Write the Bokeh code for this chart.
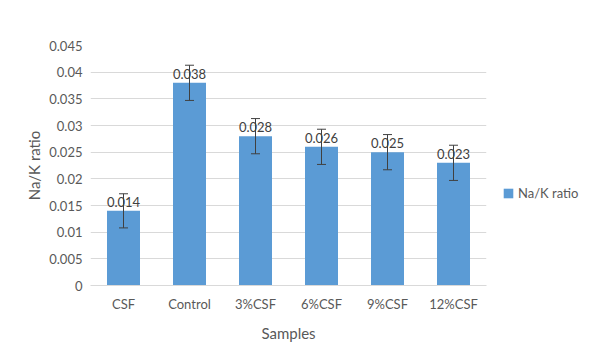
from bokeh.plotting import figure
from bokeh.models import (ColumnDataSource, FactorRange, Range1d, FixedTicker,
                          Whisker, TeeHead, Legend, LegendItem)
from bokeh.core.properties import value
from bokeh.embed import file_html
from bokeh.resources import INLINE

categories = ["CSF", "Control", "3%CSF", "6%CSF", "9%CSF", "12%CSF"]
ratios = [0.014, 0.038, 0.028, 0.026, 0.025, 0.023]
errors = [0.0032, 0.0033, 0.0033, 0.0033, 0.0033, 0.0033]
value_labels = ["0.014", "0.038", "0.028", "0.026", "0.025", "0.023"]
y_ticks = [0, 0.005, 0.01, 0.015, 0.02, 0.025, 0.03, 0.035, 0.04, 0.045]
y_tick_labels = ["0", "0.005", "0.01", "0.015", "0.02", "0.025", "0.03",
                 "0.035", "0.04", "0.045"]

FONT = "Lato"
TXT = "#595959"

src = ColumnDataSource(dict(
    cat=categories,
    val=ratios,
    upper=[v + e for v, e in zip(ratios, errors)],
    lower=[v - e for v, e in zip(ratios, errors)],
    lab=value_labels,
))

p = figure(x_range=FactorRange(*categories, range_padding=0),
           y_range=Range1d(0, 0.045),
           frame_width=396, frame_height=240,
           min_border_left=90, min_border_right=112,
           min_border_top=45, min_border_bottom=73,
           output_backend="svg", toolbar_location=None)

p.outline_line_color = None
p.background_fill_color = "white"
p.border_fill_color = "white"

bars = p.vbar(x="cat", top="val", width=0.5, source=src,
              fill_color="#5B9BD5", line_color=None)

p.text(x="cat", y="val", text="lab", source=src, text_align="center",
       text_baseline="alphabetic", y_offset=-9, text_font=value(FONT),
       text_font_size="13px", text_color="#404040")

wh = Whisker(base="cat", upper="upper", lower="lower", source=src,
             line_color="#404040", line_width=1, level="annotation",
             upper_head=TeeHead(size=9, line_color="#404040", line_width=1),
             lower_head=TeeHead(size=9, line_color="#404040", line_width=1))
p.add_layout(wh)

# axes
p.xgrid.grid_line_color = None
p.ygrid.grid_line_color = "#d9d9d9"
p.ygrid.grid_line_width = 1
p.yaxis.ticker = FixedTicker(ticks=y_ticks)
p.ygrid.ticker = FixedTicker(ticks=y_ticks)
p.yaxis.major_label_overrides = {t: l for t, l in zip(y_ticks, y_tick_labels)}

for ax in (p.xaxis[0], p.yaxis[0]):
    ax.major_tick_line_color = None
    ax.minor_tick_line_color = None
    ax.major_tick_out = 0
    ax.major_label_text_font = FONT
    ax.major_label_text_font_size = "13px"
    ax.major_label_text_color = TXT
    ax.axis_label_text_font = FONT
    ax.axis_label_text_font_size = "15px"
    ax.axis_label_text_font_style = "normal"
    ax.axis_label_text_color = TXT

p.yaxis.axis_line_color = None
p.yaxis.major_label_standoff = 8
p.yaxis.axis_label = "Na/K ratio"
p.yaxis.axis_label_standoff = 3

p.xaxis.axis_line_color = "#d9d9d9"
p.xaxis.major_label_standoff = 10
p.xaxis.axis_label = "Samples"
p.xaxis.axis_label_standoff = 9

legend = Legend(items=[LegendItem(label="Na/K ratio", renderers=[bars])],
                location=(16, 84), padding=0, margin=0, spacing=0,
                glyph_width=12, glyph_height=12, label_standoff=4,
                label_text_font=FONT, label_text_font_size="13px",
                label_text_color=TXT, border_line_color=None,
                background_fill_alpha=0)
p.add_layout(legend, "right")

open("out.html", "w").write(file_html(p, INLINE))
